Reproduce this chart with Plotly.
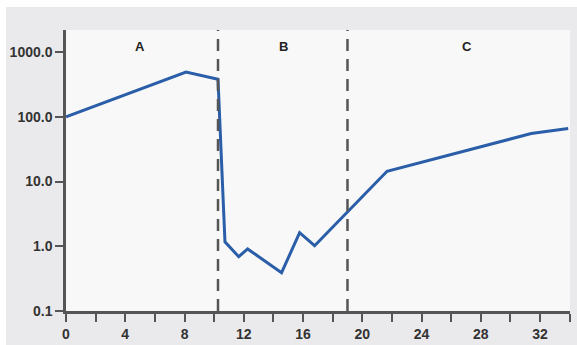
import plotly.graph_objects as go

# Data
x_vals = [0, 8.1, 10.26, 10.73, 11.66, 12.26, 14.55, 15.77, 16.78, 21.67, 31.4, 33.9]
y_vals = [100, 490, 380, 1.17, 0.69, 0.91, 0.39, 1.62, 1.02, 14.4, 55, 66]
phase_bounds = [10.26, 19.0]
phase_labels = ["A", "B", "C"]
phase_label_x = [5.0, 14.7, 27.1]
y_tickvals = [0.1, 1, 10, 100, 1000]
y_ticktext = ["0.1", "1.0", "10.0", "100.0", "1000.0"]
x_tickvals = [0, 4, 8, 12, 16, 20, 24, 28, 32]
x_ticktext = ["0", "4", "8", "12", "16", "20", "24", "28", "32"]

AX = "#555555"
FONT = "Liberation Sans, Arial, sans-serif"

fig = go.Figure()
fig.add_trace(go.Scatter(
    x=x_vals, y=y_vals, mode="lines",
    line=dict(color="#2b5ea8", width=3),
    hoverinfo="skip", showlegend=False,
))

shapes = []
for b in phase_bounds:
    shapes.append(dict(type="line", xref="x", yref="paper", x0=b, x1=b, y0=0, y1=1,
                       line=dict(color="#555555", width=2.5, dash="12px,8px"), layer="above"))
# white strips of page outside the grey panel
shapes.append(dict(type="rect", xref="paper", yref="paper",
                   x0=-66/504, x1=(577-66)/504, y0=1 + 23/281, y1=1 + 30/281,
                   fillcolor="white", line=dict(width=0), layer="below"))
shapes.append(dict(type="rect", xref="paper", yref="paper",
                   x0=-66/504, x1=-60/504, y0=-34/281, y1=1 + 30/281,
                   fillcolor="white", line=dict(width=0), layer="below"))

annotations = []
for lx, lt in zip(phase_label_x, phase_labels):
    # y given in log10 units on the log axis (~1200)
    annotations.append(dict(x=lx, y=3.08, xref="x", yref="y", text=lt, showarrow=False,
                            font=dict(family=FONT, size=13, color="#222222", weight="bold")))

fig.update_layout(
    width=577, height=345,
    margin=dict(l=66, r=7, t=30, b=34),
    paper_bgcolor="#eaeaec",
    plot_bgcolor="#f8f8f8",
    shapes=shapes,
    annotations=annotations,
    xaxis=dict(
        range=[0, 34.02], showgrid=False, zeroline=False, automargin=False,
        showline=True, linecolor=AX, linewidth=2.5,
        tickmode="array", tickvals=x_tickvals, ticktext=x_ticktext,
        ticks="outside", ticklen=8, tickwidth=2, tickcolor=AX,
        tickfont=dict(family=FONT, size=14, color="#333333", weight="bold"),
        minor=dict(tickvals=[2, 6, 10, 14, 18, 22, 26, 30, 34], ticks="outside",
                   ticklen=8, tickwidth=2, tickcolor=AX, showgrid=False),
    ),
    yaxis=dict(
        type="log", range=[-1, 3.34], showgrid=False, zeroline=False, automargin=False,
        showline=True, linecolor=AX, linewidth=2.5,
        tickmode="array", tickvals=y_tickvals, ticktext=y_ticktext,
        ticks="outside", ticklen=8, tickwidth=2, tickcolor=AX,
        tickfont=dict(family=FONT, size=14, color="#333333", weight="bold"),
    ),
)

fig.write_html("out.html")
